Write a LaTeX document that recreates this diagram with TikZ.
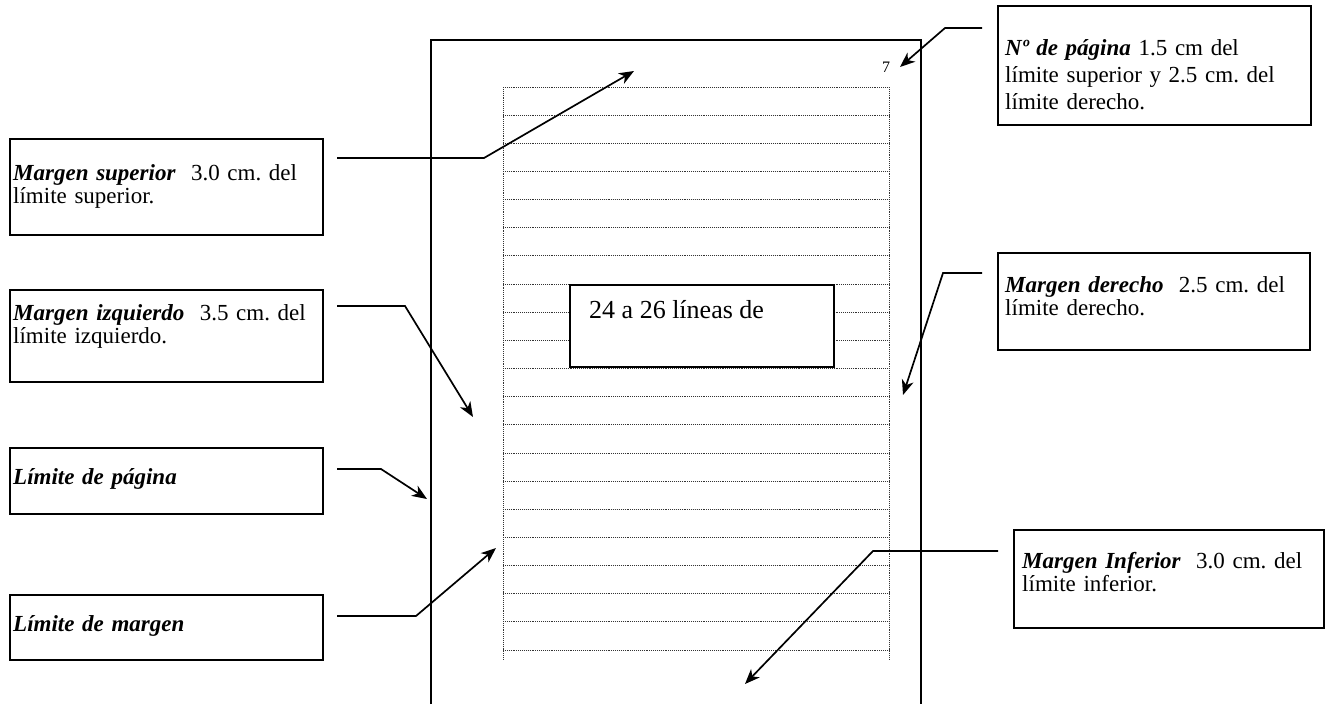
\documentclass[tikz,border=0pt]{standalone}
\usepackage{fontspec}
\setmainfont{Liberation Serif}
\usetikzlibrary{arrows.meta}
\frenchspacing
\begin{document}
\begin{tikzpicture}[x=1pt,y=-1pt,
  pageedge/.style={line width=1.7pt},
  callout/.style={draw, line width=1.5pt, anchor=north west, inner sep=0pt},
  rowline/.style={densely dotted, line width=0.9pt, black!80},
  lbl/.style={anchor=base west, inner sep=0pt, text width=330pt, align=left,
    font=\fontsize{23}{23.5}\selectfont},
  pointer/.style={line width=1.7pt, -{Stealth[length=15pt,width=12pt,inset=4.5pt]}},
]
\useasboundingbox (0,0) rectangle (1325,704);

% text rows inside the margins
\foreach \k in {0,...,20}{
  \draw[rowline] (503,{87+28.15*\k}) -- (889,{87+28.15*\k});
}
\draw[rowline] (503,87) -- (503,660);
\draw[rowline] (889,87) -- (889,660);

% page edge, open at the bottom
\draw[pageedge] (431,704) -- (431,40) -- (921,40) -- (921,704);

% page number
\node[anchor=base west, inner sep=0pt, font=\fontsize{16}{16}\selectfont] (pnum) at (882,72) {7};

% central label
\node[callout, fill=white, minimum width=264pt, minimum height=82pt] (mid) at (569,284) {};
\node[anchor=base west, inner sep=0pt, font=\fontsize{26}{26}\selectfont] (midT) at (589,318) {24 a 26 líneas de};

% callout boxes
\node[callout, minimum width=313pt, minimum height=119pt] (nro) at (997,5) {};
\node[callout, minimum width=313pt, minimum height=96pt] (sup) at (9,138) {};
\node[callout, minimum width=313pt, minimum height=92pt] (izq) at (9,289) {};
\node[callout, minimum width=313pt, minimum height=66pt] (pag) at (9,447) {};
\node[callout, minimum width=313pt, minimum height=65pt] (marg) at (9,594) {};
\node[callout, minimum width=312pt, minimum height=97pt] (der) at (997,252) {};
\node[callout, minimum width=310pt, minimum height=98pt] (inf) at (1013,529) {};

% callout texts
\node[lbl, font=\fontsize{23}{27}\selectfont] (nroT) at (1005,55)
  {\textbf{\textit{Nº de página}} 1.5 cm del\\límite superior y 2.5 cm. del\\límite derecho.};
\node[lbl] (supT) at (13,180) {\textbf{\textit{Margen superior}}\ \ 3.0 cm. del\\límite superior.};
\node[lbl] (izqT) at (13,320) {\textbf{\textit{Margen izquierdo}}\ \ 3.5 cm. del\\límite izquierdo.};
\node[lbl] (pagT) at (13,484) {\textbf{\textit{Límite de página}}};
\node[lbl] (margT) at (13,631) {\textbf{\textit{Límite de margen}}};
\node[lbl] (derT) at (1005,292) {\textbf{\textit{Margen derecho}}\ \ 2.5 cm. del\\límite derecho.};
\node[lbl] (infT) at (1022,568) {\textbf{\textit{Margen Inferior}}\ \ 3.0 cm. del\\límite inferior.};

% pointer start and target points
\coordinate (nroS) at (982,28);   \coordinate (nroE) at (900,67);
\coordinate (supS) at (337,158);  \coordinate (supE) at (634,71);
\coordinate (izqS) at (337,306);  \coordinate (izqE) at (473,417);
\coordinate (pagS) at (337,469);  \coordinate (pagE) at (427,499);
\coordinate (margS) at (337,616); \coordinate (margE) at (496,548);
\coordinate (derS) at (982,273);  \coordinate (derE) at (903,395);
\coordinate (infS) at (998,551);  \coordinate (infE) at (745,684);

% pointers
\draw[pointer] (nroS) -- (945,28) -- (nroE);
\draw[pointer] (supS) -- (484,158) -- (supE);
\draw[pointer] (izqS) -- (405,306) -- (izqE);
\draw[pointer] (pagS) -- (381,469) -- (pagE);
\draw[pointer] (margS) -- (416,616) -- (margE);
\draw[pointer] (derS) -- (943,273) -- (derE);
\draw[pointer] (infS) -- (873,551) -- (infE);
\end{tikzpicture}
\end{document}
